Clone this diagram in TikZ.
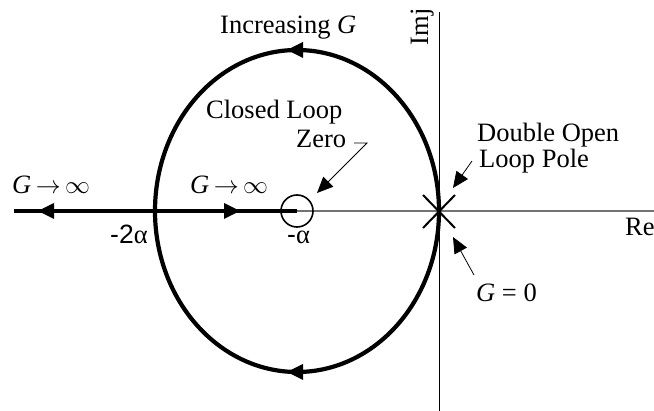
\documentclass[tikz,border=0pt]{standalone}
\usepackage{fontspec}
\setmainfont{Liberation Serif}
\newfontfamily\sansf{Liberation Sans}
\usetikzlibrary{arrows.meta}
\begin{document}
\begin{tikzpicture}[x=1pt,y=-1pt,
  lbl/.style={inner sep=0pt, font=\fontsize{26.5}{31}\selectfont},
  heavy/.style={line width=4.2pt},
  ptr/.style={line width=0.8pt, -{Triangle[length=16pt,width=14pt]}}]
\useasboundingbox (0,0) rectangle (654,411);
% axes
\coordinate (O) at (439,211);
\coordinate (imtop) at (439,12);
\coordinate (imbot) at (439,411);
\coordinate (zc) at (297,211);
\coordinate (reend) at (654,211);
\coordinate (left) at (14,211);
\draw[line width=0.9pt] (imtop) -- (imbot);
\draw[line width=1.2pt, black!55] (zc) -- (reend);
% root locus on real axis
\draw[heavy] (left) -- (zc);
\fill (38,211) -- (54,203) -- (54,219) -- cycle;
\fill (240,211) -- (224,203) -- (224,219) -- cycle;
% loop
\draw[heavy] (zc) ellipse [x radius=142pt, y radius=161pt];
\fill (287,50) -- (303,42) -- (303,58) -- cycle;
\fill (287,372) -- (303,364) -- (303,380) -- cycle;
% zero
\draw[line width=1.6pt] (zc) circle [radius=16pt];
% double pole
\draw[line width=2pt] (423,195) -- (455,228) (455,195) -- (423,228);
% pointers
\draw[ptr] (354,143) -- (367,143) -- (317,193);
\draw[ptr] (472,161) -- (453,188);
\draw[ptr] (474,275) -- (453,237);
% labels
\node[lbl, anchor=base west] (inc) at (220,34) {Increasing \textit{G}};
\node[lbl, anchor=base west] (cl) at (206,119) {Closed Loop};
\node[lbl, anchor=base west] (zero) at (296,148) {Zero};
\node[lbl, anchor=base west] (dop) at (477,142) {Double Open};
\node[lbl, anchor=base west] (lp) at (479,168) {Loop Pole};
\node[lbl, anchor=base west] (ginf1) at (12,194) {\textit{G}\,$\rightarrow$\,$\infty$};
\node[lbl, anchor=base west] (ginf2) at (190,194) {\textit{G}\,$\rightarrow$\,$\infty$};
\node[lbl, anchor=base west] (m2a) at (110,244) {{\sansf -2}α};
\node[lbl, anchor=base west] (ma) at (287,244) {{\sansf -}α};
\node[lbl, anchor=base west] (re) at (625,236) {Re};
\node[lbl, anchor=base west] (g0) at (476,302) {\textit{G} = 0};
\node[lbl, anchor=base, rotate=90] (imj) at (428,27) {Imj};
\end{tikzpicture}
\end{document}
